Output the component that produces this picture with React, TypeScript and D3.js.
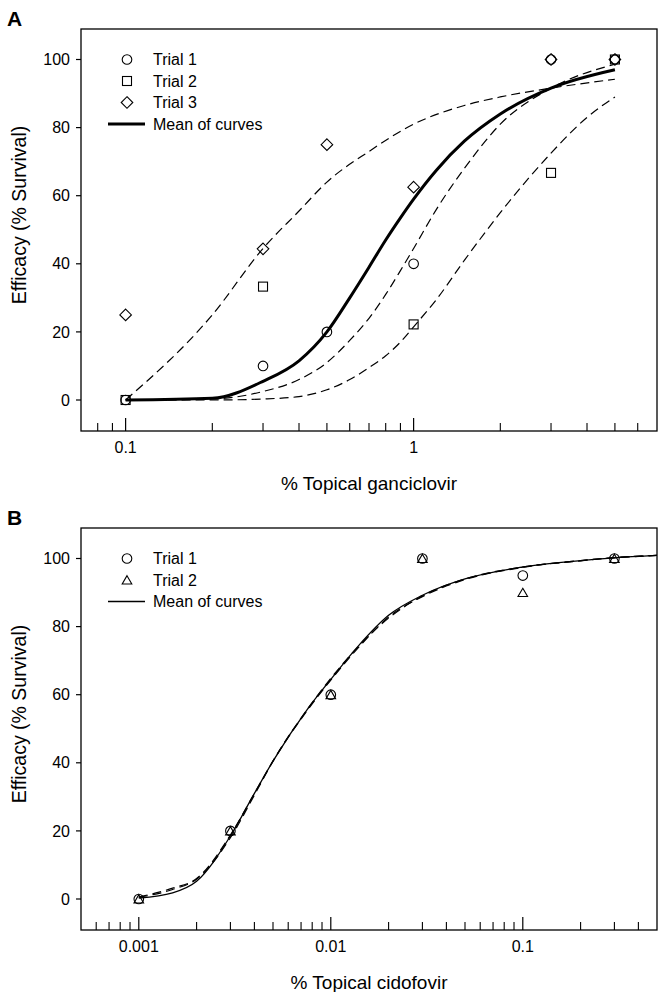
import React from "react";
import * as d3 from "d3";

// ---------- Panel A data (ganciclovir) ----------
const dosesA = [0.1, 0.3, 0.5, 1, 3, 5];
const trial1A = [0, 10, 20, 40, 100, 100];
const dosesA2 = [0.1, 0.3, 1, 3, 5];
const trial2A = [0, 33.3, 22.2, 66.7, 100];
const trial3A = [25, 44.4, 75, 62.5, 100, 100];

const meanAx = [0.1, 0.2, 0.3, 0.4, 0.5, 0.6, 0.7, 0.8, 0.9, 1, 1.2, 1.5, 2, 3, 5];
const meanAy = [0, 0.5, 5.5, 11.5, 20, 30, 39, 47, 53.5, 59, 67.5, 76, 84, 91.6, 97];
const fit1Ax = [0.1, 0.2, 0.3, 0.4, 0.5, 0.6, 0.7, 0.8, 0.9, 1, 1.2, 1.5, 2, 3, 5];
const fit1Ay = [0, 0.3, 2.5, 6, 11, 17.5, 24, 31, 38, 44.5, 56, 68, 81, 91.6, 98.6];
const fit2Ax = [0.1, 0.2, 0.3, 0.4, 0.5, 0.6, 0.7, 0.8, 0.9, 1, 1.2, 1.5, 2, 2.5, 3, 4, 5];
const fit2Ay = [0, 0, 0.3, 1, 3, 6, 9.5, 13, 17, 21.5, 29.5, 41, 55, 65, 72.5, 83, 89];
const fit3Ax = [0.1, 0.2, 0.3, 0.4, 0.5, 0.7, 1, 1.5, 2, 3, 5];
const fit3Ay = [0, 25, 44.5, 55.5, 64, 73, 81, 86.5, 89, 91.6, 94.2];

const ticksAMajor = [0.1, 1];
const ticksAMajorLabels = ["0.1", "1"];
const ticksAMinor = [0.08, 0.09, 0.2, 0.3, 0.4, 0.5, 0.6, 0.7, 0.8, 0.9, 2, 3, 4, 5, 6];

// ---------- Panel B data (cidofovir) ----------
const dosesB = [0.001, 0.003, 0.01, 0.03, 0.1, 0.3];
const trial1B = [0, 20, 60, 100, 95, 100];
const trial2B = [0, 20, 60, 100, 90, 100];

const curveBx = [0.001, 0.0015, 0.002, 0.003, 0.004, 0.005, 0.0075, 0.01, 0.014, 0.02, 0.03, 0.05, 0.1, 0.2, 0.3, 0.5];
const meanBy = [0.3, 1.8, 5.2, 18.5, 31, 40.5, 55.5, 64.5, 74.5, 83.3, 89.2, 94, 97.5, 99.4, 100.2, 100.9];
const fit1By = [0.6, 3.2, 6, 18.8, 31, 40.5, 55.2, 64.3, 74, 82.8, 88.8, 93.8, 97.4, 99.4, 100.2, 100.9];
const fit2By = [0.5, 2.8, 5.8, 18, 30.5, 40.5, 55.5, 64.8, 74.3, 82.5, 89, 94, 97.5, 99.3, 100.3, 100.9];

const ticksBMajor = [0.001, 0.01, 0.1];
const ticksBMajorLabels = ["0.001", "0.01", "0.1"];
const ticksBMinor = [0.0006, 0.0007, 0.0008, 0.0009, 0.002, 0.003, 0.004, 0.005, 0.006, 0.007, 0.008, 0.009,
  0.02, 0.03, 0.04, 0.05, 0.06, 0.07, 0.08, 0.09, 0.2, 0.3, 0.4];

const yTicks = [0, 20, 40, 60, 80, 100];

const FONT = "'Liberation Sans', Arial, sans-serif";

type Marker = "circle" | "square" | "diamond" | "triangle";

function MarkerShape({ type, x, y }: { type: Marker; x: number; y: number }) {
  const st = { fill: "none", stroke: "#000", strokeWidth: 1.1 };
  if (type === "circle") return <circle cx={x} cy={y} r={4.8} {...st} />;
  if (type === "square") return <rect x={x - 4.5} y={y - 4.5} width={9} height={9} {...st} />;
  if (type === "diamond")
    return <path d={`M${x},${y - 5.8}L${x + 5.8},${y}L${x},${y + 5.8}L${x - 5.8},${y}Z`} {...st} />;
  return <path d={`M${x},${y - 4.3}L${x + 4.8},${y + 4}L${x - 4.8},${y + 4}Z`} {...st} />;
}

interface Series { xs: number[]; ys: number[]; marker: Marker }
interface Curve { xs: number[]; ys: number[]; dashed: boolean; width: number }

function Panel({
  top, letter, xDomain, majors, majorLabels, minors, series, curves, legend, legendLineWidth, xTitle,
}: {
  top: number; letter: string; xDomain: [number, number]; majors: number[]; majorLabels: string[];
  minors: number[]; series: Series[]; curves: Curve[]; legend: { label: string; marker?: Marker }[];
  legendLineWidth: number; xTitle: string;
}) {
  const left = 81, right = 657;
  const boxTop = top, boxBottom = top + 402;
  const x = d3.scaleLog().domain(xDomain).range([left, right]);
  const y = d3.scaleLinear().domain([0, 100]).range([top + 371, top + 30.5]);
  const line = d3.line<[number, number]>().x((d) => x(d[0])).y((d) => y(d[1])).curve(d3.curveMonotoneX);

  return (
    <g>
      <text x={7} y={top - 3} fontFamily={FONT} fontWeight="bold" fontSize={21}>{letter}</text>
      <rect x={left} y={boxTop} width={right - left} height={boxBottom - boxTop} fill="none" stroke="#000" strokeWidth={1.3} />
      {yTicks.map((t) => (
        <g key={t}>
          <line x1={left - 5} x2={left} y1={y(t)} y2={y(t)} stroke="#000" strokeWidth={1.2} />
          <text x={left - 11} y={y(t)} dy="0.35em" textAnchor="end" fontFamily={FONT} fontSize={16}>{t}</text>
        </g>
      ))}
      {majors.map((t, i) => (
        <g key={"M" + t}>
          <line x1={x(t)} x2={x(t)} y1={boxBottom} y2={boxBottom - 13} stroke="#000" strokeWidth={1.2} />
          <text x={x(t)} y={boxBottom + 16} dy="0.35em" textAnchor="middle" fontFamily={FONT} fontSize={16}>{majorLabels[i]}</text>
        </g>
      ))}
      {minors.map((t) => (
        <line key={"m" + t} x1={x(t)} x2={x(t)} y1={boxBottom} y2={boxBottom - 8} stroke="#000" strokeWidth={1.1} />
      ))}
      {curves.map((c, i) => (
        <path key={"c" + i} d={line(c.xs.map((v, j) => [v, c.ys[j]] as [number, number])) || ""}
          fill="none" stroke="#000" strokeWidth={c.width} strokeDasharray={c.dashed ? "9,5" : undefined} />
      ))}
      {series.map((s, i) => (
        <g key={"s" + i}>
          {s.xs.map((v, j) => <MarkerShape key={j} type={s.marker} x={x(v)} y={y(s.ys[j])} />)}
        </g>
      ))}
      {legend.map((l, i) => {
        const ly = top + 30.5 + i * 21.5;
        return (
          <g key={"l" + i}>
            {l.marker ? <MarkerShape type={l.marker} x={127} y={ly} /> :
              <line x1={108} x2={145} y1={ly} y2={ly} stroke="#000" strokeWidth={legendLineWidth} />}
            <text x={153} y={ly} dy="0.35em" fontFamily={FONT} fontSize={16}>{l.label}</text>
          </g>
        );
      })}
      <text x={(left + right) / 2} y={boxBottom + 52} dy="0.35em" textAnchor="middle" fontFamily={FONT} fontSize={19}>{xTitle}</text>
      <text transform={`translate(19,${top + 186}) rotate(-90)`} dy="0.35em" textAnchor="middle" fontFamily={FONT} fontSize={19.5}>Efficacy (% Survival)</text>
    </g>
  );
}

export default function App() {
  return (
    <div style={{ position: "absolute", left: 0, top: 0 }}>
      <svg width={666} height={992} style={{ display: "block", background: "#fff" }}>
        <Panel
          top={29}
          letter="A"
          xDomain={[0.07, 7]}
          majors={ticksAMajor}
          majorLabels={ticksAMajorLabels}
          minors={ticksAMinor}
          series={[
            { xs: dosesA, ys: trial1A, marker: "circle" },
            { xs: dosesA2, ys: trial2A, marker: "square" },
            { xs: dosesA, ys: trial3A, marker: "diamond" },
          ]}
          curves={[
            { xs: fit1Ax, ys: fit1Ay, dashed: true, width: 1.2 },
            { xs: fit2Ax, ys: fit2Ay, dashed: true, width: 1.2 },
            { xs: fit3Ax, ys: fit3Ay, dashed: true, width: 1.2 },
            { xs: meanAx, ys: meanAy, dashed: false, width: 3 },
          ]}
          legend={[
            { label: "Trial 1", marker: "circle" },
            { label: "Trial 2", marker: "square" },
            { label: "Trial 3", marker: "diamond" },
            { label: "Mean of curves" },
          ]}
          legendLineWidth={3}
          xTitle="% Topical ganciclovir"
        />
        <Panel
          top={528}
          letter="B"
          xDomain={[0.0005, 0.5]}
          majors={ticksBMajor}
          majorLabels={ticksBMajorLabels}
          minors={ticksBMinor}
          series={[
            { xs: dosesB, ys: trial1B, marker: "circle" },
            { xs: dosesB, ys: trial2B, marker: "triangle" },
          ]}
          curves={[
            { xs: curveBx, ys: fit1By, dashed: true, width: 1.2 },
            { xs: curveBx, ys: fit2By, dashed: true, width: 1.2 },
            { xs: curveBx, ys: meanBy, dashed: false, width: 1.3 },
          ]}
          legend={[
            { label: "Trial 1", marker: "circle" },
            { label: "Trial 2", marker: "triangle" },
            { label: "Mean of curves" },
          ]}
          legendLineWidth={1.3}
          xTitle="% Topical cidofovir"
        />
      </svg>
    </div>
  );
}
